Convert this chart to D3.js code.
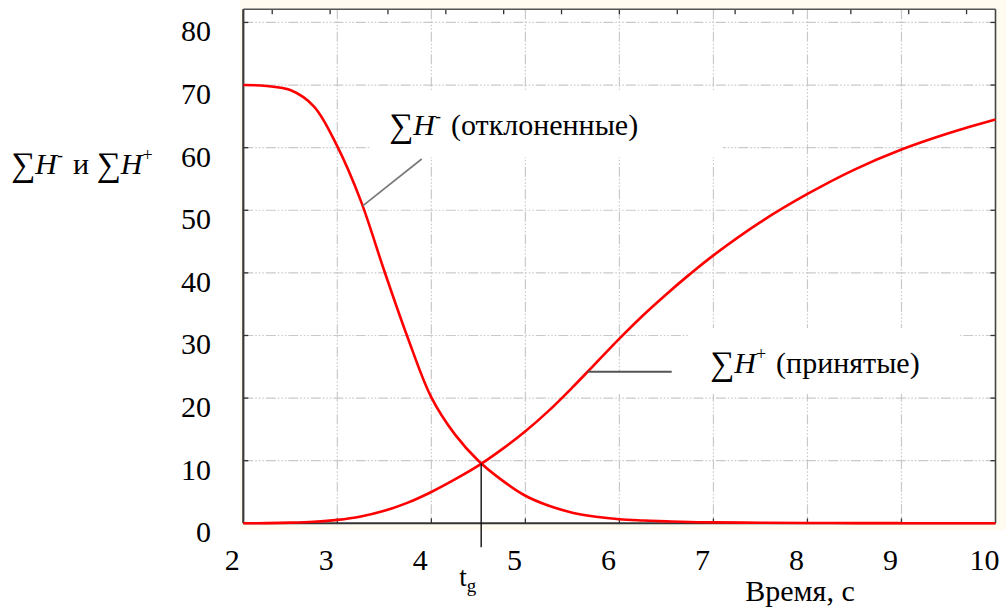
<!DOCTYPE html>
<html>
<head>
<meta charset="utf-8">
<script src="https://cdn.jsdelivr.net/npm/d3@7"></script>
</head>
<body style="margin:0">
<svg id="chart" width="1006" height="612"></svg>
<script>
// Time axis (s) and the two cumulative curves
const times    = [2, 2.25, 2.5, 2.75, 3, 3.25, 3.5, 3.75, 4, 4.25, 4.5, 4.75, 5, 5.25, 5.5, 5.75, 6, 6.25, 6.5, 6.75, 7, 7.5, 8, 8.5, 9, 9.5, 10];
const rejected = [70, 69.85, 69.2, 66.6, 60.2, 51.5, 40.3, 29.6, 20.1, 14.2, 10.0, 6.9, 4.4, 2.8, 1.7, 1.05, 0.65, 0.45, 0.3, 0.2, 0.15, 0.08, 0.05, 0.03, 0.02, 0.01, 0];
const accepted = [0, 0.03, 0.1, 0.25, 0.55, 1.1, 2.0, 3.3, 5.0, 7.0, 9.2, 11.8, 14.7, 18.0, 21.7, 25.6, 29.5, 33.2, 36.6, 39.8, 42.8, 48.1, 52.6, 56.5, 59.7, 62.3, 64.5];

const xTicks = [2, 3, 4, 5, 6, 7, 8, 9, 10];
const yTicks = [0, 10, 20, 30, 40, 50, 60, 70, 80];

// crossing time t_g and points where the labels' leader lines touch the curves
const tg = 4.53;
const tgValue = 9.6;
const rejectedNote = { t: 3.27, v: 50.7 };
const acceptedNote = { t: 5.66, v: 24.2 };

const FONT = "Liberation Serif";
const svg = d3.select("#chart");
const plot = { left: 243.3, right: 995.5, top: 9.3, bottom: 523.3 };

const x = d3.scaleLinear().domain([2, 10]).range([plot.left, plot.right]);
const y = d3.scaleLinear().domain([0, 82.1]).range([plot.bottom, plot.top]);
// secondary minor scale used only for the top-edge tick marks
const xTop = d3.scaleLinear().domain([0, 13]).range([plot.left, plot.right]);

// pale backdrop behind the plotting frame
svg.append("rect").attr("x", 240).attr("y", 0).attr("width", 766).attr("height", 530).attr("fill", "#fffbf1");
svg.append("rect").attr("x", plot.left).attr("y", plot.top)
  .attr("width", plot.right - plot.left).attr("height", plot.bottom - plot.top).attr("fill", "#ffffff");

// grid
const grid = svg.append("g").attr("stroke", "#c9c9c9").attr("stroke-width", 1.2)
  .attr("stroke-dasharray", "10,2,1.5,2,1.5,2,1.5,2");
grid.selectAll("line.h").data(yTicks.filter(d => d > 0)).join("line").attr("class", "h")
  .attr("x1", plot.left).attr("x2", plot.right)
  .attr("y1", d => y(d)).attr("y2", d => y(d));
grid.selectAll("line.v").data(xTicks.slice(1, -1)).join("line").attr("class", "v")
  .attr("x1", d => x(d)).attr("x2", d => x(d))
  .attr("y1", plot.top).attr("y2", plot.bottom);

// white panels behind the curve labels
svg.append("rect").attr("x", 370).attr("y", 90).attr("width", 353).attr("height", 67).attr("fill", "#fff");
svg.append("rect").attr("x", 690).attr("y", 328).attr("width", 270).attr("height", 66).attr("fill", "#fff");
svg.append("rect").attr("x", 600).attr("y", 373).attr("width", 100).attr("height", 21).attr("fill", "#fff");

// tick marks on all four sides
const tk = svg.append("g").attr("stroke", "#333").attr("stroke-width", 1.3);
tk.selectAll("line.l").data(yTicks.filter(d => d > 0)).join("line").attr("class", "l")
  .attr("x1", plot.left).attr("x2", plot.left + 5).attr("y1", d => y(d)).attr("y2", d => y(d));
tk.selectAll("line.r").data(yTicks.filter(d => d > 0)).join("line").attr("class", "r")
  .attr("x1", plot.right).attr("x2", plot.right - 5).attr("y1", d => y(d)).attr("y2", d => y(d));
tk.selectAll("line.b").data(xTicks.slice(1, -1)).join("line").attr("class", "b")
  .attr("x1", d => x(d)).attr("x2", d => x(d)).attr("y1", plot.bottom).attr("y2", plot.bottom - 5);
tk.selectAll("line.t").data(d3.range(13).map(i => i + 0.5)).join("line").attr("class", "t")
  .attr("x1", d => xTop(d)).attr("x2", d => xTop(d)).attr("y1", plot.top).attr("y2", plot.top + 5);

// frame
svg.append("line").attr("x1", plot.left).attr("x2", plot.right).attr("y1", plot.top).attr("y2", plot.top)
  .attr("stroke", "#555").attr("stroke-width", 1.4);
svg.append("line").attr("x1", plot.right).attr("x2", plot.right).attr("y1", plot.top).attr("y2", plot.bottom)
  .attr("stroke", "#444").attr("stroke-width", 1.6);
svg.append("line").attr("x1", plot.left).attr("x2", plot.left).attr("y1", plot.top).attr("y2", plot.bottom)
  .attr("stroke", "#3a3a3a").attr("stroke-width", 2.2);
svg.append("line").attr("x1", plot.left).attr("x2", plot.right).attr("y1", plot.bottom).attr("y2", plot.bottom)
  .attr("stroke", "#333").attr("stroke-width", 2);

// curves
const line = d3.line().x(d => x(d[0])).y(d => y(d[1])).curve(d3.curveCatmullRom.alpha(0.5));
[rejected, accepted].forEach(vals => {
  svg.append("path").datum(times.map((t, i) => [t, vals[i]]))
    .attr("d", line).attr("fill", "none").attr("stroke", "#ff0000").attr("stroke-width", 2.6)
    .attr("stroke-linejoin", "round");
});

// t_g marker
svg.append("line").attr("x1", x(tg)).attr("x2", x(tg))
  .attr("y1", y(tgValue)).attr("y2", plot.bottom + 24)
  .attr("stroke", "#111").attr("stroke-width", 1.4);

// all text: one record per text node, rendered with the serif face set on each node
const texts = [];
yTicks.forEach(d => texts.push({ x: 211, y: y(d) + 19, anchor: "end", size: 30, parts: [{ t: String(d) }] }));
xTicks.forEach(d => texts.push({ x: x(d) - 11, y: 570, anchor: "middle", size: 30, parts: [{ t: String(d) }] }));
texts.push({ x: 800, y: 601, anchor: "middle", size: 30, parts: [{ t: "Время, с" }] });
texts.push({ x: x(tg) - 22, y: 586, anchor: "start", size: 27, parts: [{ t: "t" }, { t: "g", size: 19, dy: 6 }] });

function sumParts(sign) {
  return [
    { t: "∑", size: 34, dy: 2 },
    { t: "H", italic: true, dy: -2 },
    { t: sign, size: 18, dy: -13 },
    { t: "\u200a", dy: 13 }
  ];
}
texts.push({ x: 11, y: 174, anchor: "start", size: 30,
  parts: [...sumParts("-"), { t: " и " }, ...sumParts("+")] });
texts.push({ x: 389, y: 135, anchor: "start", size: 30, parts: [...sumParts("-"), { t: " (отклоненные)" }] });
texts.push({ x: 710, y: 373, anchor: "start", size: 30, parts: [...sumParts("+"), { t: " (принятые)" }] });

svg.append("g").selectAll("text").data(texts).join("text")
  .attr("x", d => d.x).attr("y", d => d.y)
  .attr("font-size", d => d.size)
  .attr("text-anchor", d => d.anchor)
  .style("font-family", FONT)
  .each(function (d) {
    const el = d3.select(this);
    d.parts.forEach(p => {
      const ts = el.append("tspan").style("font-family", FONT).text(p.t);
      if (p.size) ts.attr("font-size", p.size);
      if (p.dy) ts.attr("dy", p.dy);
      if (p.italic) ts.attr("font-style", "italic");
    });
  });

// leader lines from the labels to the curves
svg.append("line").attr("x1", x(rejectedNote.t)).attr("y1", y(rejectedNote.v))
  .attr("x2", 421.7).attr("y2", 159).attr("stroke", "#777").attr("stroke-width", 1.6);
svg.append("line").attr("x1", x(acceptedNote.t)).attr("y1", y(acceptedNote.v))
  .attr("x2", 671.7).attr("y2", y(acceptedNote.v)).attr("stroke", "#555").attr("stroke-width", 2);
</script>
</body>
</html>
